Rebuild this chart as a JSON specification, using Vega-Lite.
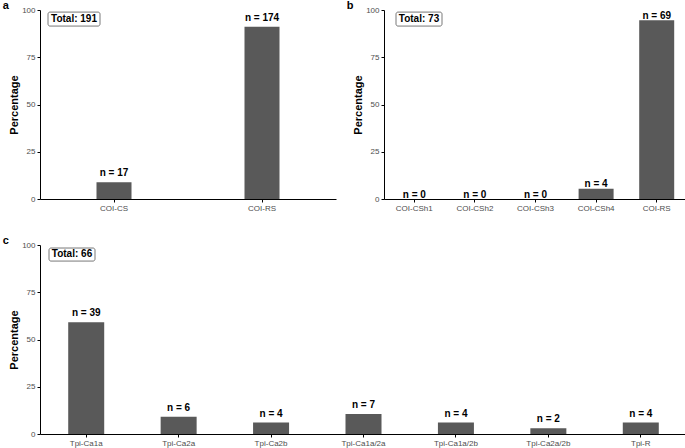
{
  "$schema": "https://vega.github.io/schema/vega-lite/v6.json",
  "padding": {"left": 2, "top": 0, "right": 2, "bottom": 2},
  "background": "white",
  "config": {
    "view": {"stroke": null},
    "font": "Liberation Sans",
    "axis": {"domainColor": "black", "tickColor": "black", "tickSize": 3, "labelColor": "#4d4d4d", "labelFontSize": 8, "labelPadding": 2, "grid": false, "titleFontSize": 11, "titleFontWeight": "bold", "titleColor": "black", "titlePadding": 2, "domainWidth": 1, "tickWidth": 1},
    "title": {"fontSize": 11, "fontWeight": "bold", "anchor": "start", "frame": "bounds", "color": "black", "offset": 0}
  },
  "spacing": 23,
  "vconcat": [
    {
      "spacing": 10,
      "hconcat": [
        {
          "title": {"text": "a", "dx": -6, "dy": 9},
          "width": 296,
          "height": 189,
          "data": {"values": [
            {"group": "COI-CS", "pct": 8.9, "label": "n = 17"},
            {"group": "COI-RS", "pct": 91.1, "label": "n = 174"}
          ]},
          "layer": [
            {
              "mark": {"type": "bar", "width": 35, "color": "#595959"},
              "encoding": {
                "x": {"field": "group", "type": "nominal", "sort": null, "axis": {"title": null, "labelAngle": 0}},
                "y": {"field": "pct", "type": "quantitative", "scale": {"domain": [0, 100], "nice": false}, "axis": {"title": "Percentage", "values": [0, 25, 50, 75, 100]}}
              }
            },
            {
              "mark": {"type": "text", "fontWeight": "bold", "fontSize": 10, "baseline": "alphabetic", "dy": -6, "color": "black"},
              "encoding": {
                "x": {"field": "group", "type": "nominal", "sort": null},
                "y": {"field": "pct", "type": "quantitative"},
                "text": {"field": "label"}
              }
            },
            {
              "data": {"values": [{"total": "Total: 191"}]},
              "mark": {"type": "rect", "fill": "white", "stroke": "#555555", "strokeWidth": 0.8, "cornerRadius": 2},
              "encoding": {"x": {"value": 8}, "x2": {"value": 60}, "y": {"datum": 98.9}, "y2": {"datum": 91.5}}
            },
            {
              "data": {"values": [{"total": "Total: 191"}]},
              "mark": {"type": "text", "fontWeight": "bold", "fontSize": 10, "baseline": "middle", "align": "center", "color": "black"},
              "encoding": {"x": {"value": 34}, "y": {"datum": 95.2}, "text": {"field": "total"}}
            }
          ]
        },
        {
          "title": {"text": "b", "dx": -6, "dy": 9},
          "width": 303,
          "height": 189,
          "data": {"values": [
            {"group": "COI-CSh1", "pct": 0, "label": "n = 0"},
            {"group": "COI-CSh2", "pct": 0, "label": "n = 0"},
            {"group": "COI-CSh3", "pct": 0, "label": "n = 0"},
            {"group": "COI-CSh4", "pct": 5.48, "label": "n = 4"},
            {"group": "COI-RS", "pct": 94.52, "label": "n = 69"}
          ]},
          "layer": [
            {
              "mark": {"type": "bar", "width": 35, "color": "#595959"},
              "encoding": {
                "x": {"field": "group", "type": "nominal", "sort": null, "axis": {"title": null, "labelAngle": 0}},
                "y": {"field": "pct", "type": "quantitative", "scale": {"domain": [0, 100], "nice": false}, "axis": {"title": "Percentage", "values": [0, 25, 50, 75, 100]}}
              }
            },
            {
              "mark": {"type": "text", "fontWeight": "bold", "fontSize": 10, "baseline": "alphabetic", "dy": -1.5, "color": "black"},
              "encoding": {
                "x": {"field": "group", "type": "nominal", "sort": null},
                "y": {"field": "pct", "type": "quantitative"},
                "text": {"field": "label"}
              }
            },
            {
              "data": {"values": [{"total": "Total: 73"}]},
              "mark": {"type": "rect", "fill": "white", "stroke": "#555555", "strokeWidth": 0.8, "cornerRadius": 2},
              "encoding": {"x": {"value": 12}, "x2": {"value": 58}, "y": {"datum": 98.9}, "y2": {"datum": 91.5}}
            },
            {
              "data": {"values": [{"total": "Total: 73"}]},
              "mark": {"type": "text", "fontWeight": "bold", "fontSize": 10, "baseline": "middle", "align": "center", "color": "black"},
              "encoding": {"x": {"value": 35}, "y": {"datum": 95.2}, "text": {"field": "total"}}
            }
          ]
        }
      ]
    },
    {
      "title": {"text": "c", "dx": -6, "dy": 9},
      "width": 647,
      "height": 189,
      "data": {"values": [
        {"group": "Tpi-Ca1a", "pct": 59.09, "label": "n = 39"},
        {"group": "Tpi-Ca2a", "pct": 9.09, "label": "n = 6"},
        {"group": "Tpi-Ca2b", "pct": 6.06, "label": "n = 4"},
        {"group": "Tpi-Ca1a/2a", "pct": 10.61, "label": "n = 7"},
        {"group": "Tpi-Ca1a/2b", "pct": 6.06, "label": "n = 4"},
        {"group": "Tpi-Ca2a/2b", "pct": 3.03, "label": "n = 2"},
        {"group": "Tpi-R", "pct": 6.06, "label": "n = 4"}
      ]},
      "layer": [
        {
          "mark": {"type": "bar", "width": 36, "color": "#595959"},
          "encoding": {
            "x": {"field": "group", "type": "nominal", "sort": null, "axis": {"title": null, "labelAngle": 0}},
            "y": {"field": "pct", "type": "quantitative", "scale": {"domain": [0, 100], "nice": false}, "axis": {"title": "Percentage", "values": [0, 25, 50, 75, 100]}}
          }
        },
        {
          "mark": {"type": "text", "fontWeight": "bold", "fontSize": 10, "baseline": "alphabetic", "dy": -6, "color": "black"},
          "encoding": {
            "x": {"field": "group", "type": "nominal", "sort": null},
            "y": {"field": "pct", "type": "quantitative"},
            "text": {"field": "label"}
          }
        },
        {
          "data": {"values": [{"total": "Total: 66"}]},
          "mark": {"type": "rect", "fill": "white", "stroke": "#555555", "strokeWidth": 0.8, "cornerRadius": 2},
          "encoding": {"x": {"value": 9}, "x2": {"value": 55}, "y": {"datum": 98.4}, "y2": {"datum": 91.5}}
        },
        {
          "data": {"values": [{"total": "Total: 66"}]},
          "mark": {"type": "text", "fontWeight": "bold", "fontSize": 10, "baseline": "middle", "align": "center", "color": "black"},
          "encoding": {"x": {"value": 32}, "y": {"datum": 95}, "text": {"field": "total"}}
        }
      ]
    }
  ]
}
